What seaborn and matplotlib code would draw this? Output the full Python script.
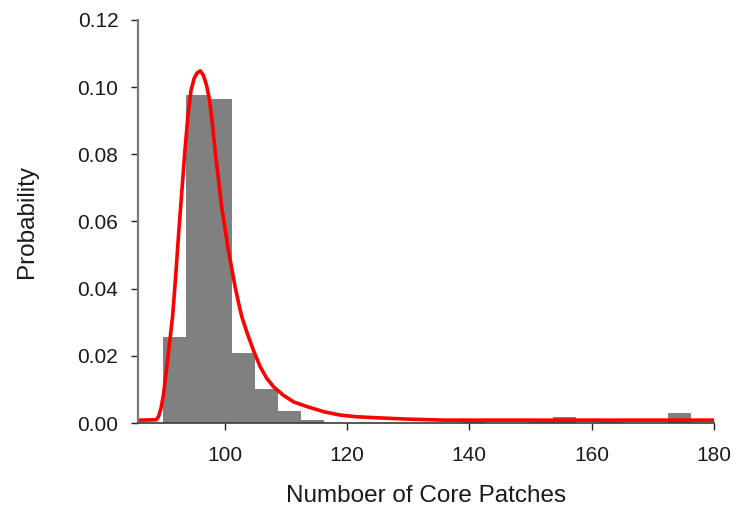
import numpy as np
import pandas as pd
import matplotlib
matplotlib.use("Agg")
import matplotlib.pyplot as plt
import seaborn as sns

# ---- data ----
bin_start = 90.0
bin_width = 3.75
bar_heights = [0.0255, 0.0977, 0.0965, 0.0209, 0.0101, 0.0037, 0.0009,
               0.0, 0.0, 0.0, 0.0, 0.0, 0.0, 0.0004,
               0.0, 0.0, 0.0004, 0.0019, 0.0, 0.0004, 0.0, 0.0, 0.0031]

curve_x = [85.8, 88.8, 89.2, 89.6, 90.0, 90.5, 91.0, 91.5, 92.0, 92.5, 93.0,
           93.5, 94.0, 94.5, 95.0, 95.5, 96.0, 96.5, 97.0, 97.5, 98.0, 98.5,
           99.0, 99.5, 100.1, 100.6, 101.2, 101.7, 102.3, 102.8, 103.6,
           104.7, 105.8, 106.9, 108.0, 109.6, 111.3, 113.5, 116.2, 118.9,
           121.6, 124.9, 130.0, 135.8, 150.0, 180.0]
curve_y = [0.0009, 0.0010, 0.0020, 0.0045, 0.0085, 0.0160, 0.0240, 0.0320,
           0.0440, 0.0570, 0.0690, 0.0810, 0.0915, 0.0990, 0.1025, 0.1042,
           0.1048, 0.1036, 0.1008, 0.0965, 0.0890, 0.0800, 0.0724, 0.0644,
           0.0575, 0.0515, 0.0456, 0.0406, 0.0356, 0.0317, 0.0272, 0.0217,
           0.0168, 0.0133, 0.0108, 0.0083, 0.0063, 0.0049, 0.0034, 0.0024,
           0.0019, 0.0016, 0.0012, 0.0009, 0.0009, 0.0009]

x_ticks = [100, 120, 140, 160, 180]
y_ticks = [0.00, 0.02, 0.04, 0.06, 0.08, 0.10, 0.12]
x_label = "Numboer of Core Patches"
y_label = "Probability"

# ---- build ----
n_bins = len(bar_heights)
edges = [bin_start + bin_width * i for i in range(n_bins + 1)]
centers = [(edges[i] + edges[i + 1]) / 2 for i in range(n_bins)]
hist_df = pd.DataFrame({"x": centers, "w": bar_heights})
curve_df = pd.DataFrame({"x": curve_x, "y": curve_y})

sns.set_style("ticks")
plt.rcParams["font.family"] = ["Liberation Sans", "DejaVu Sans"]

fig = plt.figure(figsize=(7.33, 5.08), dpi=100)
ax = fig.add_axes([0.188, 0.167, 0.786, 0.794])

sns.histplot(data=hist_df, x="x", weights="w", bins=edges, stat="count",
             color="#808080", alpha=1.0, linewidth=0, ax=ax)
sns.lineplot(data=curve_df, x="x", y="y", color="#ff0000", linewidth=2.6,
             ax=ax, sort=False)

ax.set_xlim(85.8, 180)
ax.set_ylim(0, 0.12)
ax.set_xticks(x_ticks)
ax.set_yticks(y_ticks)
ax.set_yticklabels([f"{v:.2f}" for v in y_ticks])
ax.set_xticklabels([str(v) for v in x_ticks])

for side in ["top", "right"]:
    ax.spines[side].set_visible(False)
ax.spines["left"].set_color("#7a7a7a")
ax.spines["left"].set_linewidth(1.6)
ax.spines["bottom"].set_color("#3a3a3a")
ax.spines["bottom"].set_linewidth(1.2)

ax.tick_params(axis="both", direction="out", length=5, width=1,
               color="#222222", labelsize=15, labelcolor="#1a1a1a")
ax.tick_params(axis="y", pad=9)
ax.tick_params(axis="x", pad=11.5)

ax.set_xlabel(x_label, fontsize=17.5, color="#1a1a1a", labelpad=14)
ax.set_ylabel(y_label, fontsize=17.5, color="#1a1a1a", labelpad=28)

fig.savefig("out.png", dpi=100)
